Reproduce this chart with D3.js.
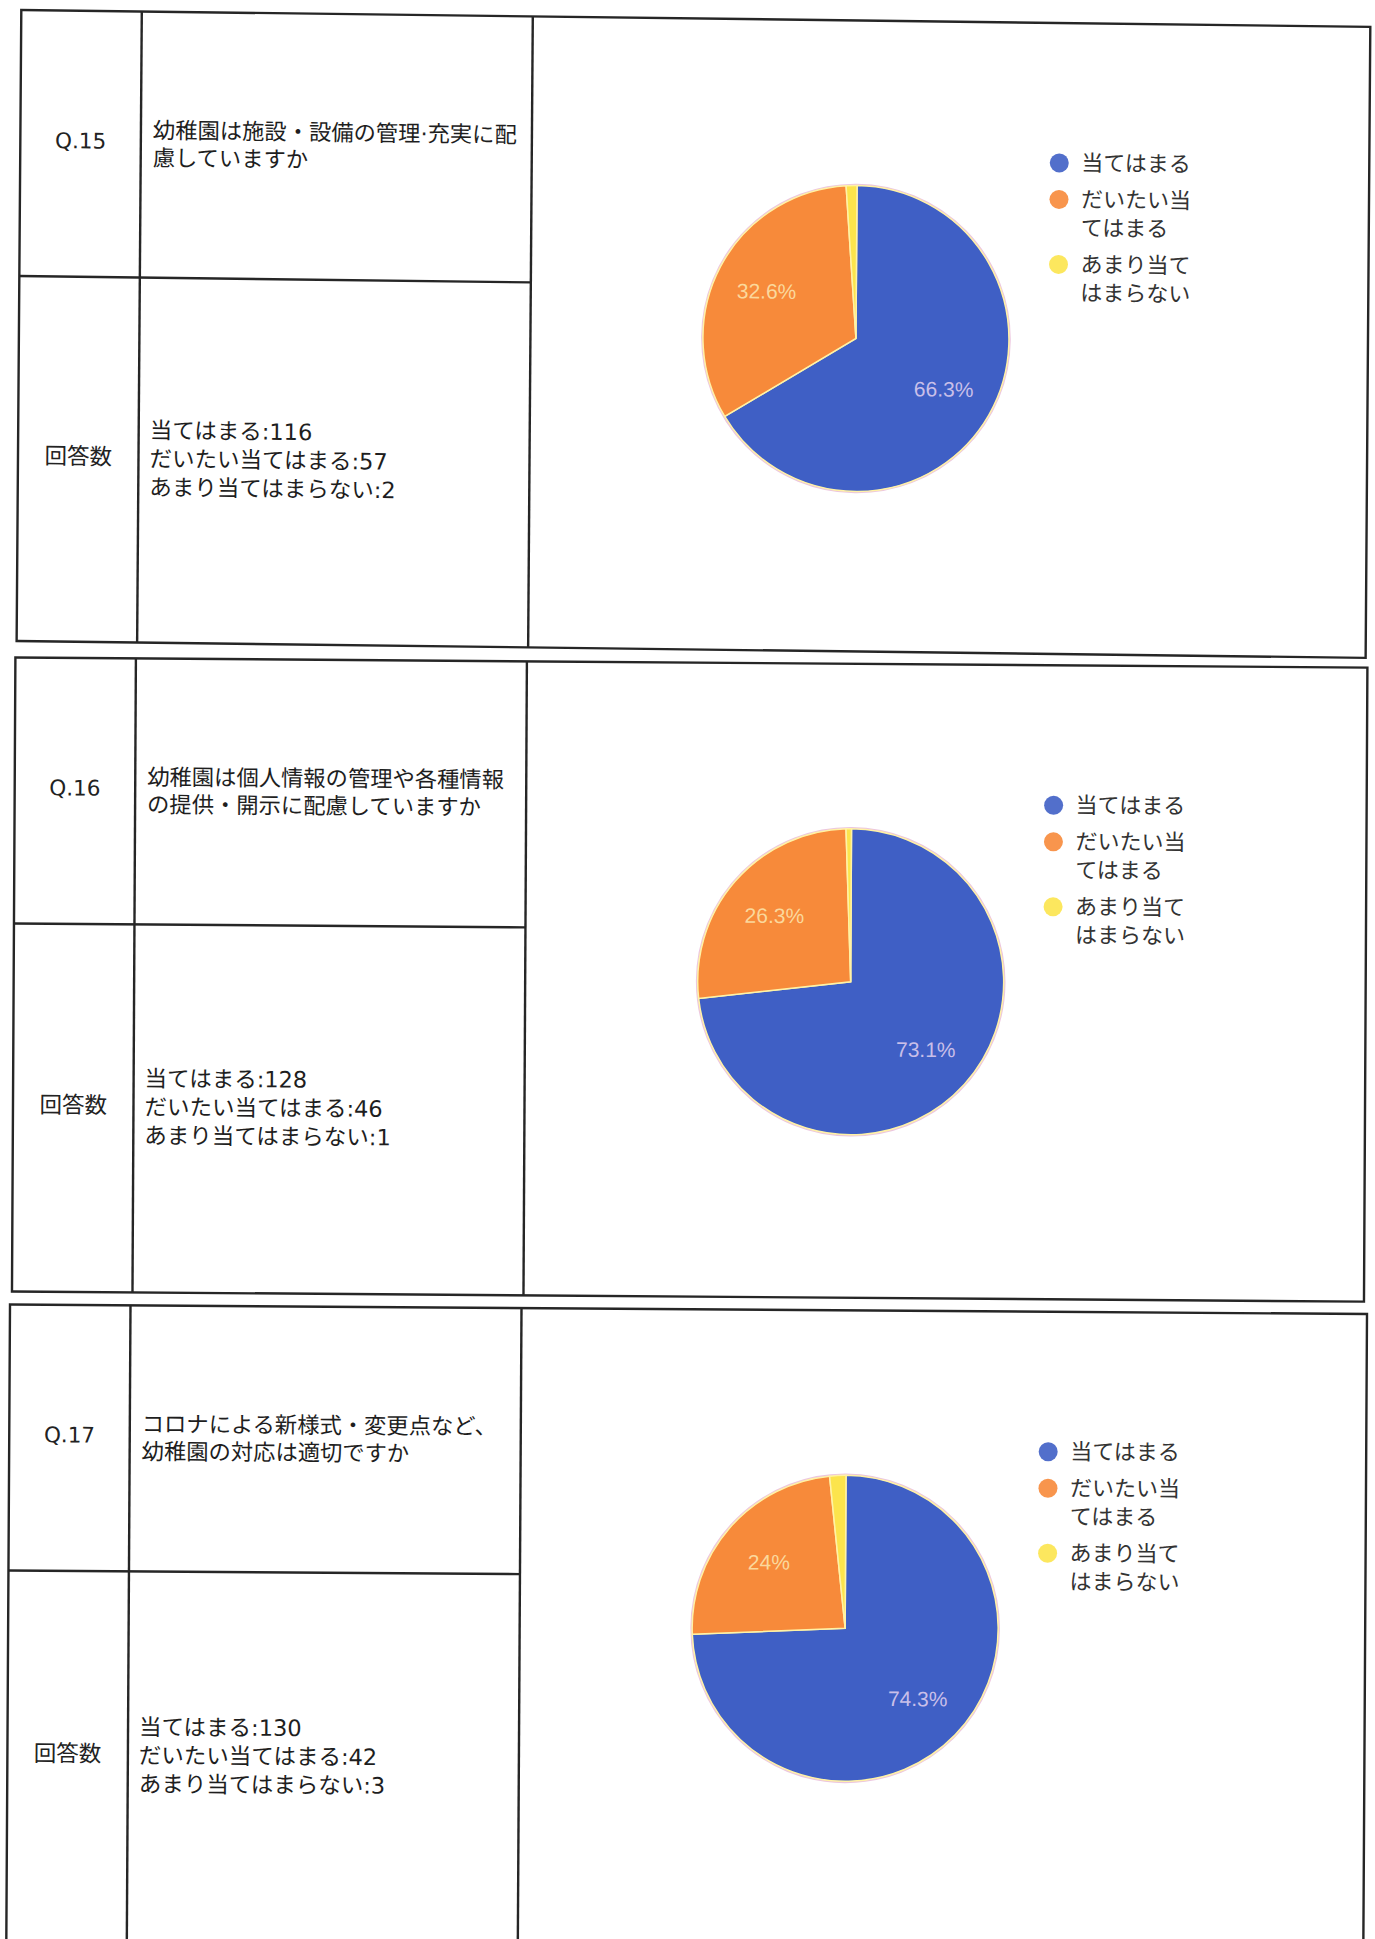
<!DOCTYPE html>
<html><head><meta charset="utf-8">
<script src="https://cdn.jsdelivr.net/npm/d3@7"></script>
<style>html,body{margin:0;padding:0;background:#fff;} svg{display:block;}</style>
</head><body>
<svg id="chart" width="1375" height="1939"></svg>
<script>
// ---------- data ----------
const questionIds = ["Q.15", "Q.16", "Q.17"];
const questionTexts = [
  ["幼稚園は施設・設備の管理·充実に配", "慮していますか"],
  ["幼稚園は個人情報の管理や各種情報", "の提供・開示に配慮していますか"],
  ["コロナによる新様式・変更点など、", "幼稚園の対応は適切ですか"]
];
const countLabel = "回答数";
const categories = ["当てはまる", "だいたい当てはまる", "あまり当てはまらない"];
const legendLines = [["当てはまる"], ["だいたい当", "てはまる"], ["あまり当て", "はまらない"]];
const countsQ15 = [116, 57, 2];
const countsQ16 = [128, 46, 1];
const countsQ17 = [130, 42, 3];
const seriesCounts = [countsQ15, countsQ16, countsQ17];

// ---------- style / layout ----------
const sliceColors = ["#3f5fc5", "#f78a3a", "#fce44c"];
const labelColors = ["#c9bfe9", "#fbd89c", "#fff"];
const panels = [
  { m: [1, 0.0125, -0.0074, 1, 21.3, 10.0], w: 1349, h: 631 },
  { m: [1, 0.0075, -0.0054, 1, 15.4, 657.5], w: 1352, h: 634 },
  { m: [1, 0.0070, -0.0058, 1, 10, 1304.5], w: 1357, h: 637 }
];
const col1 = 120.5, col2 = 511.5, rowDiv = 266;
const cx = 837, cy = 318, R = 153;
const lineColor = "#262626";
const jpFont = "'DejaVu Sans','Noto Sans CJK JP',sans-serif";

const svg = d3.select("#chart");
svg.append("rect").attr("width", 1375).attr("height", 1939).attr("fill", "#fff");

const pie = d3.pie().sort(null).value(d => d);
const arc = d3.arc().innerRadius(0).outerRadius(R);
const labelArc = d3.arc().innerRadius(R * 0.66).outerRadius(R * 0.66);
const fmtPct = v => {
  let s = d3.format(".1f")(v * 100);
  if (s.endsWith(".0")) s = s.slice(0, -2);
  return s + "%";
};

function multiline(parent, x, y0, lines, lh, font, size, fill) {
  const t = parent.append("text").attr("x", x).attr("y", y0)
    .style("font-family", font).style("font-size", size).attr("fill", fill);
  lines.forEach((s, j) => {
    t.append("tspan").attr("x", x).attr("y", y0 + j * lh).attr("dominant-baseline", "central").text(s);
  });
  return t;
}

panels.forEach((p, i) => {
  const g = svg.append("g").attr("transform", `matrix(${p.m.join(",")})`);
  const counts = seriesCounts[i];
  const total = d3.sum(counts);

  // table lines
  g.append("rect").attr("x", 0).attr("y", 0).attr("width", p.w).attr("height", p.h)
    .attr("fill", "none").attr("stroke", lineColor).attr("stroke-width", 2.4);
  [col1, col2].forEach(x => g.append("line").attr("x1", x).attr("x2", x).attr("y1", 0).attr("y2", p.h)
    .attr("stroke", lineColor).attr("stroke-width", 2.4));
  g.append("line").attr("x1", 0).attr("x2", col2).attr("y1", rowDiv).attr("y2", rowDiv)
    .attr("stroke", lineColor).attr("stroke-width", 2.4);

  const row1c = rowDiv / 2;
  const row2c = (rowDiv + p.h) / 2;

  // Q label
  g.append("text").attr("x", col1 / 2).attr("y", row1c - 3)
    .attr("text-anchor", "middle").attr("dominant-baseline", "central")
    .style("font-family", "'DejaVu Sans',sans-serif").style("font-size", "21.5px").attr("fill", "#222")
    .text(questionIds[i]);
  // question text
  multiline(g, col1 + 12, row1c - 14.5, questionTexts[i], 27.5, jpFont, "22.3px", "#1e1e1e");
  // count label
  g.append("text").attr("x", col1 / 2).attr("y", row2c - 3)
    .attr("text-anchor", "middle").attr("dominant-baseline", "central")
    .style("font-family", jpFont).style("font-size", "22.5px").attr("fill", "#222")
    .text(countLabel);
  // counts
  multiline(g, col1 + 11, row2c - 30, categories.map((c, k) => c + ":" + counts[k]), 28.5, jpFont, "22.5px", "#1e1e1e");

  // pie
  const pg = g.append("g").attr("transform", `translate(${cx},${cy})`);
  const arcs = pie(counts);
  pg.append("circle").attr("r", R + 0.8).attr("fill", "none").attr("stroke", "#ecc6df").attr("stroke-width", 2);
  pg.selectAll("path.slice").data(arcs).join("path").attr("class", "slice")
    .attr("d", arc).attr("fill", (d, k) => sliceColors[k])
    .attr("stroke", "#fff2a6").attr("stroke-width", 1.5);
  pg.selectAll("text.pct").data(arcs.filter(d => d.value / total >= 0.05)).join("text").attr("class", "pct")
    .attr("transform", d => `translate(${labelArc.centroid(d)})`)
    .attr("text-anchor", "middle").attr("dominant-baseline", "central")
    .style("font-family", "'Liberation Sans',Arial,sans-serif").style("font-size", "21px")
    .attr("fill", d => labelColors[d.index])
    .text(d => fmtPct(d.value / total));

  // legend
  const lg = g.append("g").attr("transform", "translate(1039,140)");
  let yy = 0;
  legendLines.forEach((lines, k) => {
    lg.append("circle").attr("cx", 0).attr("cy", yy).attr("r", 9.5).attr("fill", sliceColors[k]).attr("opacity", 0.9);
    multiline(lg, 22, yy, lines, 28.5, jpFont, "22px", "#333");
    yy += (lines.length - 1) * 28.5 + 36.5;
  });
});
</script>
</body></html>
